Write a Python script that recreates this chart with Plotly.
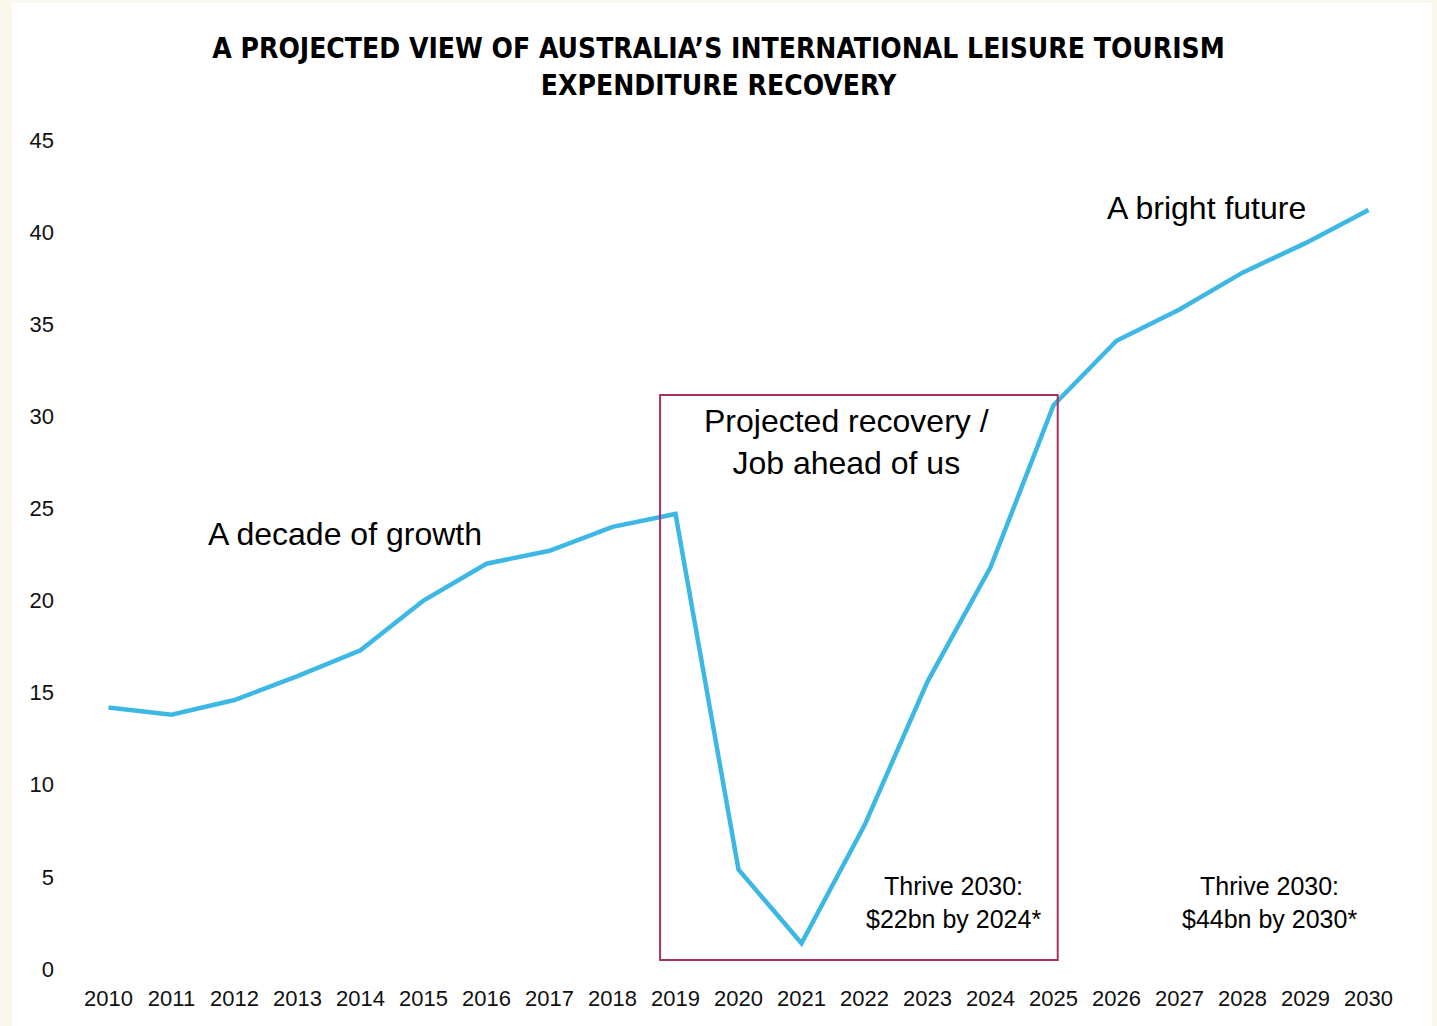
import plotly.graph_objects as go

# dados (bilhões AUD)
anos = list(range(2010, 2031))
gasto = [14.2, 13.8, 14.6, 15.9, 17.3, 20.0, 22.0, 22.7, 24.0, 24.7,
         5.4, 1.4, 7.8, 15.6, 21.8, 30.6, 34.1, 35.8, 37.8, 39.4, 41.2]

titulo = "A PROJECTED VIEW OF AUSTRALIA’S INTERNATIONAL LEISURE TOURISM<br>EXPENDITURE RECOVERY"

rotulos = [
    # texto, x, y, tamanho
    ("A decade of growth", 2013.76, 23.6, 32),
    ("A bright future", 2027.43, 41.3, 32),
    ("Projected recovery /<br>Job ahead of us", 2021.72, 28.6, 32),
    ("Thrive 2030:<br>$22bn by 2024*", 2023.42, 3.6, 25),
    ("Thrive 2030:<br>$44bn by 2030*", 2028.43, 3.6, 25),
]

fonte = "Liberation Sans, Arial, sans-serif"

fig = go.Figure()
fig.add_trace(go.Scatter(
    x=anos, y=gasto, mode="lines",
    line=dict(color="#3db8e5", width=4.5),
    hoverinfo="x+y", showlegend=False,
))

# painel branco sobre fundo creme
fig.add_shape(type="rect", xref="paper", yref="paper",
              x0=-0.0491, x1=1.0242, y0=-0.12, y1=1.1653,
              fillcolor="white", line_width=0, layer="below")

# caixa da recuperação projetada
fig.add_shape(type="rect", xref="x", yref="y",
              x0=2018.755, x1=2025.067, y0=0.49, y1=31.16,
              line=dict(color="#a8325f", width=2), fillcolor="rgba(0,0,0,0)")

for texto, x, y, tam in rotulos:
    fig.add_annotation(x=x, y=y, text=texto, showarrow=False,
                       font=dict(size=tam, color="#000", family=fonte),
                       xanchor="center", yanchor="middle", align="center")

fig.update_layout(
    width=1437, height=1026,
    paper_bgcolor="#faf8ec", plot_bgcolor="white",
    margin=dict(l=77, r=37, t=140, b=57),
    title=dict(text=titulo, x=0.5, xref="container", xanchor="center",
               y=0.943, yanchor="top",
               font=dict(family="Liberation Sans Narrow, DejaVu Sans Condensed, sans-serif",
                         size=28, color="#000", weight="bold")),
    font=dict(family=fonte, size=22, color="#111"),
    xaxis=dict(range=[2009.5, 2030.5], tickmode="array", tickvals=anos,
               ticktext=[str(a) for a in anos], showgrid=False, zeroline=False,
               showline=False, ticklabelstandoff=14, fixedrange=True),
    yaxis=dict(range=[0, 45], dtick=5, showgrid=False, zeroline=False,
               showline=False, ticklabelstandoff=22, fixedrange=True),
)

fig.write_html("out.html", config={"displayModeBar": False},
               post_script="document.body.style.margin='0';")
